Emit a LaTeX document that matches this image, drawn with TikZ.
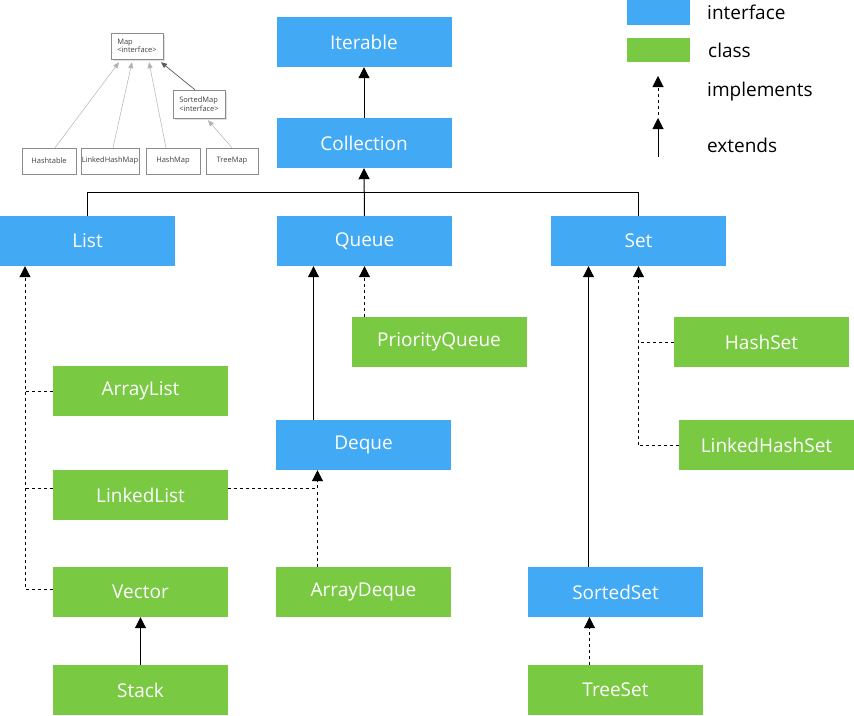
\documentclass[tikz,border=0pt]{standalone}
\usepackage{fontspec}
\setmainfont{Open Sans}
\usetikzlibrary{arrows.meta}
\definecolor{ifblue}{HTML}{42A9F4}
\definecolor{clgreen}{HTML}{7AC943}
\begin{document}
\begin{tikzpicture}[x=1pt,y=-1pt,
  box/.style={minimum width=175pt, minimum height=50pt, inner sep=0pt, text=white,
    font=\fontsize{19}{22}\selectfont},
  iface/.style={box, fill=ifblue},
  cls/.style={box, fill=clgreen},
  ext/.style={line width=1pt, -{Triangle[width=11pt,length=11pt]}},
  impl/.style={ext, dash pattern=on 3pt off 3pt},
  dsh/.style={line width=1pt, dash pattern=on 3pt off 3pt},
  legtext/.style={anchor=west, inner sep=0pt, font=\fontsize{19}{22}\selectfont},
  mbox/.style={draw=black!45, fill=white, inner sep=1pt, text=black!75,
    font=\fontsize{7.5}{8.5}\selectfont, minimum height=26pt},
  mline/.style={draw=black!30, line width=0.5pt, -{Triangle[width=5pt,length=6pt]}},
  mlinedark/.style={draw=black!65, line width=0.7pt, -{Triangle[width=5pt,length=6pt]}}]
\useasboundingbox (0,0) rectangle (854,715);

% interfaces
\node[iface] (iterable)   at (364,42)    {Iterable};
\node[iface] (collection) at (364,143)   {Collection};
\node[iface] (list)       at (87.5,241)  {List};
\node[iface] (queue)      at (364.5,241) {Queue};
\node[iface] (set)        at (638.5,241) {Set};
\node[iface] (deque)      at (363.5,445) {Deque};
\node[iface] (sortedset)  at (615.5,592) {SortedSet};

% classes
\node[cls] (arraylist)     at (140.5,391) {ArrayList};
\node[cls] (linkedlist)    at (140.5,495) {LinkedList};
\node[cls] (vector)        at (140.5,592) {Vector};
\node[cls] (stack)         at (140.5,690) {Stack};
\node[cls] (priorityqueue) at (439,342)   {PriorityQueue};
\node[cls] (arraydeque)    at (363.5,592) {ArrayDeque};
\node[cls] (hashset)       at (761.5,342) {HashSet};
\node[cls] (linkedhashset) at (766.5,445) {LinkedHashSet};
\node[cls] (treeset)       at (615.5,690) {TreeSet};

% Collection hierarchy
\draw[ext] (collection) -- (iterable);
\coordinate (bus) at (364,192.5);
\draw[line width=1pt] (list.north) |- (bus) -| (set.north);
\draw[ext] (queue.north) -- (collection.south);

% List implementations
\coordinate (lv) at (25,589.5);
\draw[impl] (vector.west |- lv) -- (lv) -- (lv |- list.south);
\draw[dsh] (arraylist.west) -- (arraylist.west -| lv);
\draw[dsh] (linkedlist.west |- 0,488.5) -- (lv |- 0,488.5);
\draw[ext] (stack) -- (vector);

% Queue / Deque
\draw[ext] ([xshift=-50pt]deque.north) -- ([xshift=-50pt]deque.north |- queue.south);
\draw[impl] (priorityqueue.north -| queue.south) -- (queue.south);
\coordinate (dq) at ([xshift=-46pt]deque.south);
\draw[impl] (linkedlist.east |- 0,488.5) -| (dq);
\draw[dsh] ([xshift=-46pt]arraydeque.north) -- ([xshift=-46pt]arraydeque.north |- 0,490);

% Set implementations
\draw[ext] ([xshift=-27pt]sortedset.north) -- ([xshift=-27pt]sortedset.north |- set.south);
\draw[impl] (linkedhashset.west -| set.south) -- (set.south);
\draw[dsh] (hashset.west) -- (hashset.west -| set.south);
\draw[dsh] (linkedhashset.west) -- (linkedhashset.west -| set.south);
\draw[impl] ([xshift=-26pt]treeset.north) -- ([xshift=-26pt]sortedset.south);

% legend
\node[fill=ifblue, minimum width=63pt, minimum height=25pt, inner sep=0pt] (lgi) at (658.5,12.5) {};
\node[fill=clgreen, minimum width=63pt, minimum height=24pt, inner sep=0pt] (lgc) at (658.5,50) {};
\node[legtext] (lti) at (707,12) {interface};
\node[legtext] (ltc) at (708,50) {class};
\node[legtext] (ltm) at (707,92) {implements};
\node[legtext] (lte) at (707,145) {extends};
\coordinate (impbot) at (658,115);
\coordinate (imptop) at (658,76);
\coordinate (extbot) at (658,157);
\coordinate (exttop) at (658,118);
\draw[impl] (impbot) -- (imptop);
\draw[ext] (extbot) -- (exttop);

% Map hierarchy
\fill[black!12] (113,35) rectangle (165,61);
\node[mbox, minimum width=52pt, align=left] (map) at (137,46) {Map\\<interface>};
\fill[black!12] (175,92) rectangle (227,120);
\node[mbox, minimum width=52pt, minimum height=28pt, align=left] (sortedmap) at (199,104) {SortedMap\\<interface>};
\node[mbox, minimum width=54pt] (hashtable)     at (49,161)  {Hashtable};
\node[mbox, minimum width=58pt] (linkedhashmap) at (110,161) {LinkedHashMap};
\node[mbox, minimum width=54pt] (hashmap)       at (173,161) {HashMap};
\node[mbox, minimum width=52pt] (treemap)       at (232,161) {TreeMap};
\draw[mline] ([xshift=6pt]hashtable.north) -- ([xshift=-18pt,yshift=-3pt]map.south);
\draw[mline] ([xshift=3pt]linkedhashmap.north) -- ([xshift=-5pt,yshift=-3pt]map.south);
\draw[mline] ([xshift=-7pt]hashmap.north) -- ([xshift=12pt,yshift=-3pt]map.south);
\draw[mlinedark] ([xshift=-4pt]sortedmap.north) -- ([xshift=24pt,yshift=-3pt]map.south);
\draw[mline] (treemap.north) -- ([xshift=9pt,yshift=-2pt]sortedmap.south);
\end{tikzpicture}
\end{document}
